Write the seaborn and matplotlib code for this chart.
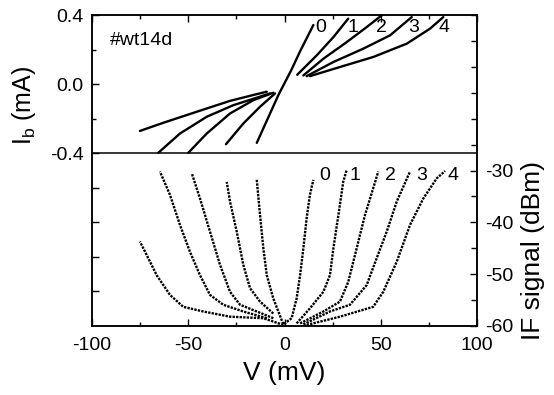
import numpy as np
import pandas as pd
import matplotlib
matplotlib.use("Agg")
import matplotlib.pyplot as plt
import seaborn as sns
from matplotlib.ticker import FixedLocator

# ---------------- data ----------------
# Top panel: I-V curves, V in mV, I_b in mA, curves 0..4 (pump levels)
iv0_v = [-14.4, -3.2, 3.7, 8.1, 15.0]
iv0_i = [-0.340, -0.064, 0.085, 0.19, 0.342]

iv1p_v = [6.6, 16.7, 25.4, 33.1]
iv1p_i = [0.054, 0.166, 0.272, 0.379]
iv1n_v = [-4.9, -12.7, -21.4, -30.4]
iv1n_i = [-0.054, -0.131, -0.228, -0.348]

iv2p_v = [9.8, 20.2, 32.3, 42.7, 50.5]
iv2p_i = [0.050, 0.147, 0.243, 0.330, 0.398]
iv2n_v = [-5.8, -16.2, -28.3, -40.4, -50.0]
iv2n_i = [-0.050, -0.093, -0.170, -0.286, -0.398]

iv3p_v = [11.5, 25.4, 40.9, 54.8, 66.1]
iv3p_i = [0.046, 0.128, 0.205, 0.282, 0.388]
iv3n_v = [-7.5, -26.6, -40.4, -54.3, -65.6]
iv3n_i = [-0.054, -0.122, -0.189, -0.286, -0.398]

iv4p_v = [13.2, 28.8, 46.1, 63.5, 75.6, 82.5]
iv4p_i = [0.046, 0.099, 0.157, 0.234, 0.321, 0.388]
iv4n_v = [-9.2, -14.4, -28.3, -45.6, -63.0, -75.1]
iv4n_i = [-0.044, -0.058, -0.097, -0.160, -0.224, -0.271]

# Bottom panel: IF signal (dBm) vs V (mV)
if0_v = [-14.4, -12.7, -11.0, -9.2, -5.8, -0.6, 3.7, 6.3, 8.1, 9.8, 11.5, 13.2, 15.0]
if0_s = [-31.8, -38.6, -45.0, -50.2, -54.7, -59.7, -58.5, -54.7, -50.2, -45.0, -39.2, -34.7, -31.8]

if1p_v = [6.3, 13.2, 20.2, 23.6, 25.4, 28.0, 30.5, 32.3]
if1p_s = [-59.5, -56.6, -53.4, -50.2, -45.0, -38.6, -32.2, -29.9]
if1n_v = [-5.8, -12.7, -17.9, -21.4, -24.8, -28.3, -30.0]
if1n_s = [-57.6, -55.3, -52.7, -48.2, -41.8, -36.0, -32.2]

if2p_v = [8.1, 20.2, 28.8, 33.1, 37.5, 41.8, 46.1, 48.7]
if2p_s = [-59.5, -57.2, -55.3, -51.5, -45.0, -38.6, -33.4, -30.2]
if2n_v = [-5.8, -14.4, -23.1, -28.3, -33.5, -38.7, -43.9, -48.2]
if2n_s = [-58.5, -57.2, -55.9, -53.4, -48.2, -41.8, -35.4, -30.5]

if3p_v = [9.8, 23.6, 34.0, 42.7, 47.9, 53.1, 58.3, 65.2]
if3p_s = [-59.7, -57.2, -55.9, -52.1, -46.9, -41.8, -36.0, -30.2]
if3n_v = [-9.2, -21.4, -31.8, -38.7, -43.9, -49.1, -54.3, -59.5, -64.7]
if3n_s = [-58.5, -57.2, -55.9, -54.0, -50.2, -45.7, -40.5, -34.7, -30.2]

if4p_v = [11.5, 28.8, 46.1, 51.3, 58.3, 65.2, 72.1, 79.1, 83.4]
if4p_s = [-59.8, -58.2, -56.3, -53.4, -47.6, -40.5, -35.4, -31.5, -30.1]
if4n_v = [-0.6, -11.0, -28.3, -42.2, -52.6, -59.5, -66.4, -71.6, -75.1]
if4n_s = [-59.8, -58.5, -58.2, -57.2, -56.3, -54.0, -50.2, -46.3, -43.7]

curve_labels = ["0", "1", "2", "3", "4"]
top_label_v = [18.8, 35.7, 50.5, 66.9, 82.9]
bot_label_v = [21.0, 36.6, 54.8, 71.3, 87.7]

# ---------------- tables ----------------
iv_parts = [("0", iv0_v, iv0_i), ("1p", iv1p_v, iv1p_i), ("1n", iv1n_v, iv1n_i),
            ("2p", iv2p_v, iv2p_i), ("2n", iv2n_v, iv2n_i),
            ("3p", iv3p_v, iv3p_i), ("3n", iv3n_v, iv3n_i),
            ("4p", iv4p_v, iv4p_i), ("4n", iv4n_v, iv4n_i)]
if_parts = [("0", if0_v, if0_s), ("1p", if1p_v, if1p_s), ("1n", if1n_v, if1n_s),
            ("2p", if2p_v, if2p_s), ("2n", if2n_v, if2n_s),
            ("3p", if3p_v, if3p_s), ("3n", if3n_v, if3n_s),
            ("4p", if4p_v, if4p_s), ("4n", if4n_v, if4n_s)]
iv_df = pd.concat([pd.DataFrame({"V": v, "I": i, "seg": s}) for s, v, i in iv_parts], ignore_index=True)
if_df = pd.concat([pd.DataFrame({"V": v, "S": y, "seg": s}) for s, v, y in if_parts], ignore_index=True)

# ---------------- style ----------------
sns.set_style("ticks")
plt.rcParams["font.family"] = ["Liberation Sans", "DejaVu Sans"]
plt.rcParams["mathtext.fontset"] = "custom"
plt.rcParams["mathtext.rm"] = "Liberation Sans"
plt.rcParams["mathtext.it"] = "Liberation Sans"
plt.rcParams["axes.unicode_minus"] = False
for key in ["text.color", "axes.labelcolor", "xtick.color", "ytick.color", "axes.edgecolor"]:
    plt.rcParams[key] = "black"

fig = plt.figure(figsize=(5.54, 3.95), dpi=100)
ax = fig.add_axes([92/554, 1-326/395, (477-92)/554, (326-15)/395])

sns.lineplot(data=iv_df, x="V", y="I", units="seg", estimator=None, sort=False,
             color="black", lw=1.7, ax=ax)
ax.axhline(-0.4, color="black", lw=1.1)
ax.set_xlim(-100, 100)
ax.set_ylim(-1.4, 0.4)
ax.set_xlabel("")
ax.set_ylabel("")

ax.xaxis.set_major_locator(FixedLocator([-100, -50, 0, 50, 100]))
ax.xaxis.set_minor_locator(FixedLocator([-75, -25, 25, 75]))
ax.set_xticklabels(["-100", "-50", "0", "50", "100"])
ax.yaxis.set_major_locator(FixedLocator([0.4, 0.0, -0.4, -0.6, -0.8, -1.0, -1.2]))
ax.set_yticklabels(["0.4", "0.0", "-0.4", "", "", "", ""])
ax.yaxis.set_minor_locator(FixedLocator([0.2, -0.2]))
ax.tick_params(which="both", direction="in", top=True, right=False, labelsize=14, width=1,
               colors="black")
ax.tick_params(which="major", length=5)
ax.tick_params(which="minor", length=3)
ax.tick_params(axis="x", pad=8)
ax.tick_params(axis="y", pad=6)
for sp in ax.spines.values():
    sp.set_linewidth(1.1)
    sp.set_color("black")

ax2 = ax.twinx()
sns.lineplot(data=if_df, x="V", y="S", units="seg", estimator=None, sort=False,
             color="black", lw=1.7, ax=ax2, linestyle=(0, (1.0, 0.5)))
ax2.set_ylim(-60, 0)
ax2.set_xlim(-100, 100)
ax2.set_ylabel("")
ax2.yaxis.set_major_locator(FixedLocator([-30, -40, -50, -60]))
ax2.yaxis.set_minor_locator(FixedLocator([-55, -45, -35, -25, -20, -15, -10, -5, 0]))
ax2.set_yticklabels(["-30", "-40", "-50", "-60"])
ax2.tick_params(which="both", direction="in", labelsize=14, width=1, pad=6, colors="black")
ax2.tick_params(which="major", length=5)
ax2.tick_params(which="minor", length=4)
for sp in ax2.spines.values():
    sp.set_linewidth(1.1)
    sp.set_color("black")

for lab, v in zip(curve_labels, top_label_v):
    ax.text(v, 0.325, lab, ha="center", va="center", fontsize=14, color="black")
for lab, v in zip(curve_labels, bot_label_v):
    ax2.text(v, -31.0, lab, ha="center", va="center", fontsize=14, color="black")
ax.text(-90.6, 0.25, "#wt14d", ha="left", va="center", fontsize=14, color="black")

fig.text(24/554, 1-105/395, r"I$_\mathrm{b}$ (mA)", rotation=90, ha="center", va="center",
         fontsize=18, color="black")
fig.text(533/554, 1-250/395, "IF signal (dBm)", rotation=90, ha="center", va="center",
         fontsize=19, color="black")
fig.text(284/554, 1-373/395, "V (mV)", ha="center", va="center", fontsize=19, color="black")

fig.savefig("out.png", dpi=100)
